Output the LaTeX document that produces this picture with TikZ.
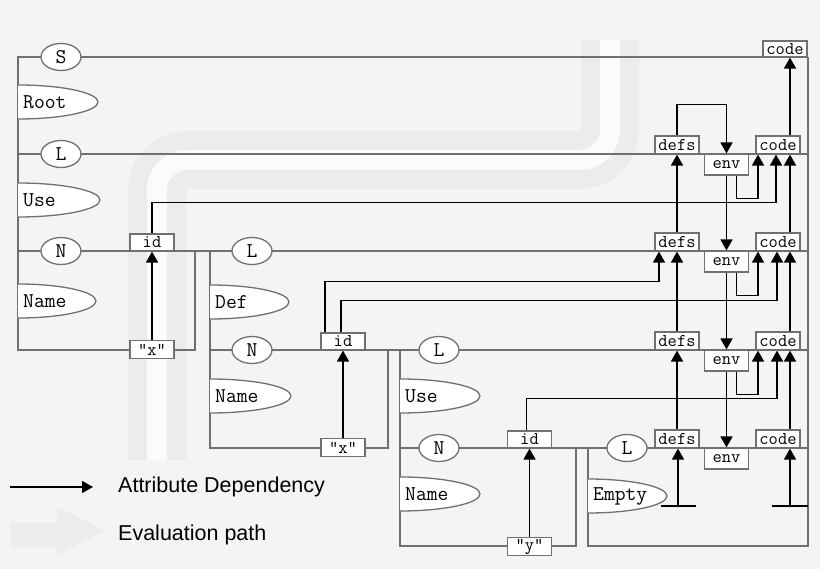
\documentclass[tikz,border=0pt]{standalone}
\usepackage{fontspec}
\usetikzlibrary{arrows.meta,shapes.geometric}
\newfontfamily\legendfont{Liberation Sans}
\definecolor{rail}{RGB}{112,112,112}
\definecolor{bg}{RGB}{244,244,244}
\definecolor{band}{RGB}{236,236,236}
\definecolor{core}{RGB}{251,251,251}
\newcommand\leafshape[4]{%
  \filldraw[rail,fill=white,line width=1.3] (#1,#2-#4) .. controls (#1+0.55*#3,#2-#4) and (#1+#3,#2-0.55*#4) .. (#1+#3,#2)
    .. controls (#1+#3,#2+0.55*#4) and (#1+0.55*#3,#2+#4) .. (#1,#2+#4);}
\begin{document}
\begin{tikzpicture}[x=1pt,y=-1pt,
  tree/.style={draw=rail,line width=1.5},
  nt/.style={ellipse,draw=rail,fill=white,line width=1.3,minimum width=40,minimum height=27,inner sep=0,font=\fontsize{21}{21}\ttfamily},
  attr/.style={rectangle,draw=rail,fill=white,line width=1.2,minimum width=44,minimum height=18,inner sep=0,font=\fontsize{18}{18}\ttfamily},
  leaf/.style={anchor=west,inner sep=0,font=\fontsize{21}{21}\ttfamily},
  dep/.style={draw=black,line width=1.7,-{Triangle[length=11pt,width=12pt]}},
  legend/.style={anchor=west,inner sep=0,font=\fontsize{21.5}{21.5}\legendfont}]
\useasboundingbox (0,0) rectangle (820,569);
\fill[bg] (0,0) rectangle (820,569);
\draw[band,line width=58,rounded corners=30] (157,460) |- (610,160) -- (610,40);
\draw[core,line width=20,rounded corners=30] (157,460) |- (610,160) -- (610,40);

\draw[tree] (808,57) -- (18,57) -- (18,350) -- (195,350) -- (195,251);
\draw[tree] (18,154) -- (808,154);
\draw[tree] (18,251) -- (808,251);
\draw[tree] (808,57) -- (808,546) -- (588,546) -- (588,448);
\draw[tree] (210,251) -- (210,448) -- (388,448) -- (388,350);
\draw[tree] (210,350) -- (808,350);
\draw[tree] (400,350) -- (400,546) -- (576,546) -- (576,448);
\draw[tree] (400,448) -- (808,448);

\node[nt] (s)  at (61,57)   {S};
\node[nt] (l1) at (61,154)  {L};
\node[nt] (n1) at (61,251)  {N};
\node[nt] (l2) at (252,251) {L};
\node[nt] (n2) at (252,350) {N};
\node[nt] (l3) at (439,350) {L};
\node[nt] (n3) at (439,448) {N};
\node[nt] (l4) at (627,448) {L};

\foreach \x/\y/\rx/\nm/\txt in {18/102/80/root/Root,18/200/82/use1/Use,18/301/78/name1/Name,
    210/302/79/def/Def,210/396/81/name2/Name,400/396/80/use2/Use,400/494/80/name3/Name,588/496/79/empty/Empty}{
  \leafshape{\x}{\y}{\rx}{17}
  \node[leaf] (\nm) at (\x+5,\y) {\txt};
}

\node[attr,minimum height=16] (sc) at (785,49) {code};
\foreach \i/\r in {1/154,2/251,3/350,4/448}{
  \node[attr] (d\i) at (677,\r-9) {defs};
  \node[attr,minimum height=21] (e\i) at (726.5,\r+10.5) {env};
  \node[attr] (c\i) at (778,\r-9) {code};
}
\node[attr,minimum height=17] (id1) at (152,242.5) {id};
\node[attr,minimum height=17] (id2) at (343,341.5) {id};
\node[attr,minimum height=17] (id3) at (529.5,439.5) {id};
\node[attr] (q1) at (152,349.5) {“x”};
\node[attr] (q2) at (343,447.5) {“x”};
\node[attr] (q3) at (529.5,546.5) {“y”};

\foreach \i in {1,2,3}{
  \draw[dep] (q\i.north) -- (id\i.south);
  \draw[dep] ([xshift=10]e\i.south) -- ++(0,23) -| ([xshift=-20]c\i.south);
}
\foreach \i/\j in {2/1,3/2,4/3}{
  \draw[dep] (d\i.north) -- (d\j.south);
  \draw[dep] ([xshift=12]c\i.north) -- ([xshift=12]c\j.south);
  \draw[dep] (e\j.south) -- (e\i.north);
}
\draw[dep] ([xshift=12]c1.north) -- ([xshift=12]c1.north |- sc.south);
\draw[dep] (d1.north) -- ++(0,-31) -| (e1.north);
\draw[dep] (id1.north) -- ++(0,-31) -| ([xshift=-2]c1.south);
\draw[dep] ([xshift=-18]id2.north) -- ++(0,-51) -| ([xshift=-18]d2.south);
\draw[dep] ([xshift=-2]id2.north) -- ++(0,-32) -| ([xshift=-1]c2.south);
\draw[dep] ([xshift=-3]id3.north) -- ++(0,-32) -| ([xshift=-1]c3.south);

\coordinate (t1) at (678,506);
\coordinate (t2) at (790,506);
\draw[dep] (t1) -- (t1 |- d4.south);
\draw[dep] (t2) -- (t2 |- c4.south);
\draw[line width=1.7] ([xshift=-17]t1) -- ([xshift=18]t1);
\draw[line width=1.7] ([xshift=-18]t2) -- ([xshift=18]t2);

\coordinate (la) at (10,487);
\node[legend] (ldep) at (118,487) {Attribute Dependency};
\draw[dep] (la) -- ([xshift=-25]ldep.west);
\fill[band] (10,523) -- (57,523) -- (57,507) -- (105,531) -- (57,555) -- (57,547) -- (10,547) -- cycle;
\node[legend] (leval) at (118,535) {Evaluation path};
\end{tikzpicture}
\end{document}
